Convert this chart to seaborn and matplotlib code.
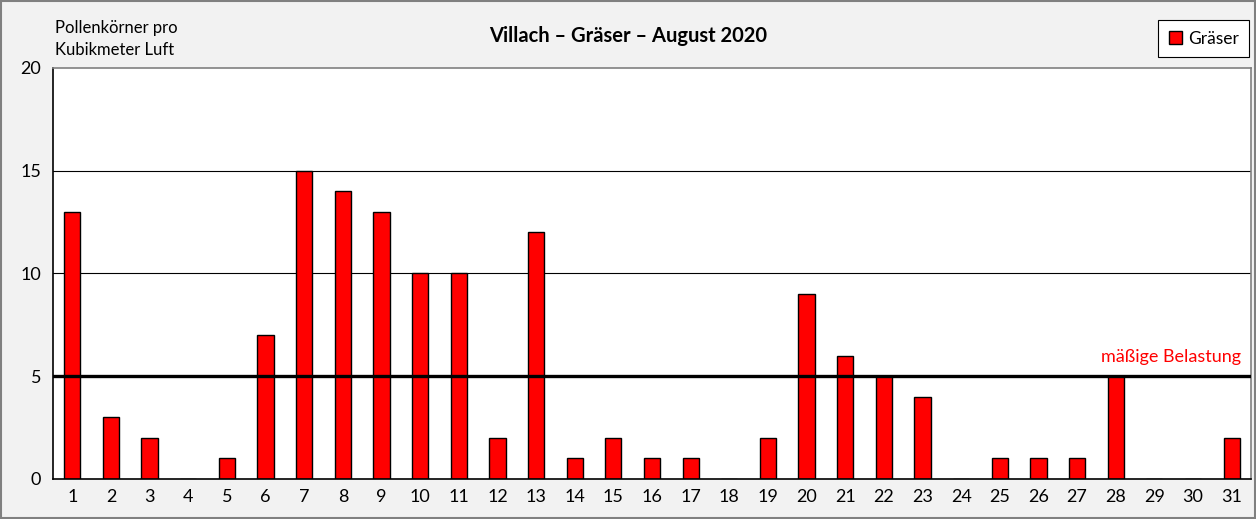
import numpy as np
import pandas as pd
import matplotlib.pyplot as plt
import seaborn as sns
from matplotlib.patches import Patch

days = list(range(1, 32))
pollen = [13, 3, 2, 0, 1, 7, 15, 14, 13, 10, 10, 2, 12, 1, 2, 1, 1, 0, 2, 9,
          6, 5, 4, 0, 1, 1, 1, 5, 0, 0, 2]
threshold = 5
threshold_label = "mäßige Belastung"

sns.set_style("white")
plt.rcParams["font.family"] = ["Lato", "DejaVu Sans"]
plt.rcParams["text.color"] = "black"
plt.rcParams["xtick.color"] = "black"
plt.rcParams["ytick.color"] = "black"

df = pd.DataFrame({"Tag": [str(d) for d in days], "Pollen": pollen})

fig = plt.figure(figsize=(12.56, 5.19), dpi=100, facecolor="#f2f2f2")
ax = fig.add_axes([0.0422, 0.0771, 0.9538, 0.7919])
ax.set_facecolor("white")

sns.barplot(data=df, x="Tag", y="Pollen", color="#ff0000", edgecolor="black",
            linewidth=1.0, width=0.42, saturation=1, ax=ax)

ax.set_xlim(-0.5, len(days) - 0.5)
ax.set_ylim(0, 20)
ax.set_yticks([0, 5, 10, 15, 20])
for y in [10, 15]:
    ax.axhline(y, color="black", linewidth=0.8, zorder=0)
ax.axhline(threshold, color="black", linewidth=2.4, zorder=3)
ax.text(len(days) - 0.75, threshold + 0.55, threshold_label, color="#ff0000",
        fontsize=13, ha="right", va="bottom")

ax.set_xticks(np.arange(-0.5, len(days), 1), minor=True)
ax.tick_params(axis="x", which="major", length=0, labelsize=13, pad=7)
ax.tick_params(axis="x", which="minor", length=5, width=1, color="black", direction="out")
ax.tick_params(axis="y", length=5, width=1, color="black", direction="out", labelsize=13)
ax.set_xlabel("")
ax.set_ylabel("")

for side in ["left", "bottom"]:
    ax.spines[side].set_color("black")
    ax.spines[side].set_linewidth(1.2)
for side in ["top", "right"]:
    ax.spines[side].set_color("#808080")
    ax.spines[side].set_linewidth(1.2)

fig.text(0.5, 0.93, "Villach – Gräser – August 2020", ha="center", va="center",
         fontsize=14.5, fontweight="bold")
fig.text(0.044, 0.925, "Pollenkörner pro\nKubikmeter Luft", ha="left", va="center",
         fontsize=12, linespacing=1.4)

leg = fig.legend(handles=[Patch(facecolor="#ff0000", edgecolor="black", label="Gräser")],
                 loc="upper right", bbox_to_anchor=(0.9944, 0.961), fontsize=12.5,
                 handlelength=0.8, handleheight=0.8, handletextpad=0.3,
                 fancybox=False, framealpha=1, borderpad=0.6, borderaxespad=0)
leg.get_frame().set_edgecolor("black")
leg.get_frame().set_linewidth(0.8)

border = plt.Rectangle((0.001, 0.001), 0.998, 0.998, transform=fig.transFigure,
                       fill=False, edgecolor="#808080", linewidth=1.5)
fig.patches.append(border)

fig.savefig("out.png", dpi=100, facecolor=fig.get_facecolor())
